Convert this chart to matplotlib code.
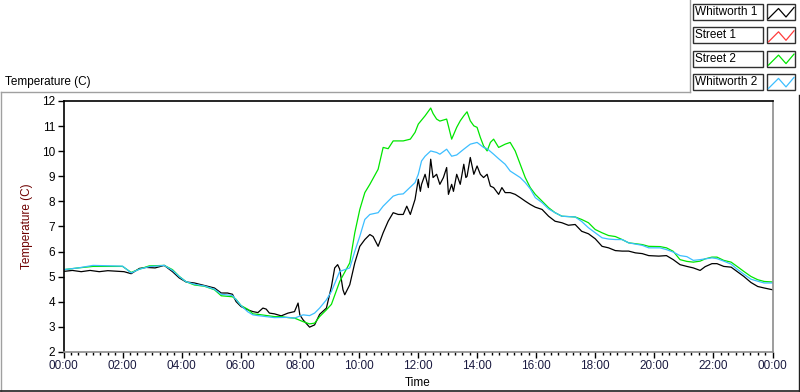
import numpy as np
import matplotlib.pyplot as plt
from matplotlib.patches import Rectangle
from matplotlib.lines import Line2D
from matplotlib.ticker import MultipleLocator, FuncFormatter

plt.rcParams['font.family'] = ['Liberation Sans', 'DejaVu Sans']

# data: hours since midnight, temperature (C)
whit1_t = [0.0, 0.3, 0.6, 0.9, 1.21, 1.5, 1.8, 2.05, 2.29, 2.57, 2.8, 3.1, 3.41, 3.69, 3.92,
           4.15, 4.43, 4.77, 5.11, 5.34, 5.55, 5.72, 5.84, 6.01, 6.24, 6.41, 6.58, 6.75, 6.86,
           6.97, 7.14, 7.37, 7.6, 7.82, 7.94, 8.0, 8.11, 8.33, 8.5, 8.67, 8.9, 9.07, 9.18,
           9.28, 9.35, 9.46, 9.52, 9.69, 9.86, 10.03, 10.2, 10.37, 10.48, 10.65, 10.82, 10.99,
           11.16, 11.33, 11.5, 11.62, 11.74, 11.9, 12.01, 12.08, 12.12, 12.24, 12.35, 12.43,
           12.51, 12.63, 12.74, 12.86, 12.97, 13.03, 13.14, 13.2, 13.31, 13.43, 13.55, 13.62,
           13.66, 13.77, 13.89, 14.0, 14.11, 14.22, 14.34, 14.45, 14.56, 14.73, 14.84, 14.95,
           15.12, 15.29, 15.46, 15.63, 15.8, 15.97, 16.2, 16.42, 16.64, 16.87, 17.09, 17.32,
           17.54, 17.77, 18.0, 18.23, 18.45, 18.68, 18.91, 19.13, 19.36, 19.59, 19.81, 20.15,
           20.41, 20.64, 20.87, 21.1, 21.32, 21.55, 21.72, 21.95, 22.12, 22.35, 22.6, 22.8,
           23.03, 23.27, 23.5, 23.72, 24.0]
whit1_v = [5.21, 5.25, 5.2, 5.25, 5.2, 5.24, 5.22, 5.2, 5.12, 5.33, 5.37, 5.35, 5.45, 5.2, 4.95,
           4.79, 4.75, 4.65, 4.55, 4.35, 4.35, 4.3, 4.01, 3.81, 3.68, 3.61, 3.57, 3.75, 3.71,
           3.55, 3.52, 3.44, 3.55, 3.61, 3.95, 3.48, 3.28, 2.99, 3.08, 3.5, 3.75, 4.61, 5.35,
           5.48, 5.3, 4.48, 4.28, 4.68, 5.55, 6.21, 6.48, 6.68, 6.6, 6.21, 6.75, 7.21,
           7.55, 7.48, 7.48, 7.81, 7.48, 8.08, 8.88, 8.4, 8.68, 9.08, 8.55, 9.68,
           8.95, 9.08, 8.68, 8.95, 9.35, 8.28, 8.68, 8.4, 9.08, 8.68, 9.48, 8.95,
           9.0, 9.75, 9.08, 9.41, 9.08, 8.95, 9.08, 8.61, 8.55, 8.28, 8.55, 8.35,
           8.35, 8.28, 8.15, 8.01, 7.88, 7.77, 7.68, 7.41, 7.21, 7.15, 7.05, 7.08,
           6.81, 6.71, 6.51, 6.21, 6.15, 6.04, 6.02, 6.02, 5.95, 5.92, 5.84, 5.82,
           5.84, 5.68, 5.48, 5.41, 5.35, 5.25, 5.4, 5.52, 5.52, 5.41, 5.38, 5.21,
           5.01, 4.77, 4.61, 4.55, 4.48]

street2_t = [0.0, 0.5, 1.0, 2.0, 2.29, 2.57, 2.9, 3.41, 3.69, 3.92, 4.15, 4.43, 4.77, 5.11, 5.34,
             5.72, 5.84, 6.01, 6.24, 6.41, 6.58, 7.14, 7.37, 7.6, 7.82, 8.11, 8.33, 8.5, 8.67,
             8.9, 9.07, 9.35, 9.69, 9.86, 10.03, 10.2, 10.37, 10.65, 10.82, 10.99, 11.16, 11.5,
             11.74, 11.9, 12.01, 12.24, 12.43, 12.51, 12.63, 12.74, 12.97, 13.03, 13.14, 13.31,
             13.43, 13.55, 13.66, 13.77, 13.89, 14.0, 14.11, 14.22, 14.34, 14.45, 14.56, 14.73,
             14.95, 15.12, 15.29, 15.46, 15.63, 15.8, 15.97, 16.2, 16.42, 16.64, 16.87, 17.32,
             17.54, 17.77, 18.0, 18.23, 18.45, 18.68, 18.91, 19.13, 19.59, 19.81, 20.19, 20.41,
             20.64, 20.87, 21.1, 21.32, 21.55, 21.72, 21.95, 22.12, 22.35, 22.6, 22.8, 23.03,
             23.27, 23.5, 23.72, 24.0]
street2_v = [5.28, 5.35, 5.41, 5.41, 5.17, 5.3, 5.43, 5.45, 5.28, 5.01, 4.8, 4.67, 4.62, 4.48, 4.24,
             4.2, 4.1, 3.85, 3.7, 3.52, 3.5, 3.41, 3.41, 3.37, 3.35, 3.21, 3.12, 3.15, 3.41,
             3.68, 3.9, 4.81, 5.55, 6.75, 7.68, 8.35, 8.68, 9.28, 10.15, 10.1, 10.41, 10.41,
             10.48, 10.75, 11.08, 11.41, 11.72, 11.5, 11.28, 11.2, 11.28, 11.0, 10.48, 10.95,
             11.21, 11.41, 11.57, 11.21, 11.01, 10.95, 10.55, 10.21, 10.01, 10.35, 10.48, 10.15,
             10.28, 10.35, 10.01, 9.48, 8.95, 8.55, 8.28, 8.01, 7.75, 7.55, 7.41, 7.38,
             7.28, 7.15, 6.88, 6.75, 6.64, 6.6, 6.48, 6.35, 6.28, 6.21, 6.2, 6.15,
             6.01, 5.68, 5.61, 5.58, 5.62, 5.71, 5.78, 5.78, 5.65, 5.58, 5.41, 5.21,
             5.01, 4.88, 4.81, 4.79]

whit2_t = [0.0, 0.5, 1.0, 2.0, 2.29, 2.57, 2.9, 3.41, 3.69, 3.92, 4.15, 4.43, 4.77, 5.11, 5.34,
           5.72, 6.01, 6.24, 6.41, 6.58, 7.14, 7.6, 7.82, 8.11, 8.33, 8.5, 8.67, 8.9, 9.07,
           9.35, 9.69, 9.86, 10.03, 10.2, 10.37, 10.65, 10.82, 11.16, 11.33, 11.5, 11.9, 12.01,
           12.12, 12.24, 12.43, 12.63, 12.74, 12.97, 13.14, 13.31, 13.55, 13.77, 14.0, 14.22,
           14.34, 14.56, 14.73, 14.95, 15.12, 15.29, 15.46, 15.63, 15.8, 15.97, 16.2, 16.42,
           16.64, 16.87, 17.32, 17.54, 17.77, 18.0, 18.23, 18.45, 18.68, 18.91, 19.13, 19.59,
           19.81, 20.19, 20.41, 20.64, 20.87, 21.1, 21.32, 21.55, 21.95, 22.12, 22.35, 22.6,
           22.8, 23.03, 23.27, 23.5, 23.72, 24.0]
whit2_v = [5.28, 5.35, 5.45, 5.42, 5.15, 5.3, 5.4, 5.45, 5.25, 5.0, 4.8, 4.7, 4.63, 4.5, 4.3,
           4.25, 3.85, 3.6, 3.48, 3.45, 3.37, 3.38, 3.35, 3.48, 3.45, 3.55, 3.75, 4.08, 4.41,
           5.21, 5.35, 6.01, 6.61, 7.28, 7.48, 7.55, 7.81, 8.21, 8.28, 8.3, 8.75, 9.08,
           9.61, 9.8, 10.01, 9.95, 9.88, 10.08, 9.8, 9.85, 10.08, 10.28, 10.35, 10.15,
           10.1, 9.88, 9.7, 9.48, 9.21, 9.08, 8.95, 8.75, 8.5, 8.15, 7.95, 7.7,
           7.55, 7.41, 7.38, 7.2, 6.95, 6.75, 6.55, 6.5, 6.48, 6.48, 6.35, 6.25,
           6.15, 6.15, 6.08, 5.98, 5.84, 5.8, 5.65, 5.68, 5.75, 5.72, 5.62, 5.5,
           5.3, 5.1, 4.9, 4.82, 4.75, 4.75]

legend_names = ['Whitworth 1', 'Street 1', 'Street 2', 'Whitworth 2']
legend_colors = ['#000000', '#ff3c3c', '#00e600', '#3cbeff']

W, H = 800, 392
fig = plt.figure(figsize=(W / 100, H / 100), dpi=100)
fig.patch.set_facecolor('white')


def fx(px):
    return px / W


def fy(py):
    return 1 - py / H


# plot area
ax = fig.add_axes([fx(63.5), fy(352), (772.5 - 63.5) / W, (352 - 101) / H])
ax.plot(whit1_t, whit1_v, color=legend_colors[0], lw=0.9)
ax.plot(street2_t, street2_v, color=legend_colors[2], lw=0.9)
ax.plot(whit2_t, whit2_v, color=legend_colors[3], lw=0.9)

ax.set_xlim(0, 24)
ax.set_ylim(2, 12)
ax.xaxis.set_major_locator(MultipleLocator(2))
ax.xaxis.set_minor_locator(MultipleLocator(0.25))
ax.xaxis.set_major_formatter(FuncFormatter(lambda x, pos: f"{int(round(x)) % 24:02d}:00"))
ax.yaxis.set_major_locator(MultipleLocator(1))

for side in ['top', 'left']:
    ax.spines[side].set_color('black')
    ax.spines[side].set_linewidth(1.2)
for side in ['bottom', 'right']:
    ax.spines[side].set_color('#8c8c8c')
    ax.spines[side].set_linewidth(1.2)

ax.tick_params(which='major', direction='out', length=4, width=1, labelsize=8.5, pad=2)
ax.tick_params(which='minor', direction='out', length=2.5, width=1)
ax.tick_params(axis='x', colors='black', labelcolor='#1a1a40')

ax.set_ylabel('Temperature (C)', color='#6e0000', fontsize=8.5)
ax.yaxis.set_label_coords((33 - 63.5) / 709, 0.5)
ax.set_xlabel('Time', fontsize=8.5)
ax.xaxis.set_label_coords(0.5, -(377 - 352) / 251)

fig.text(fx(5), fy(82), 'Temperature (C)', va='center', ha='left', fontsize=8.5)

# outer frame
fig.add_artist(Line2D([fx(0.5), fx(689.5)], [fy(91.5), fy(91.5)], color='#a0a0a0', lw=1))
fig.add_artist(Line2D([fx(0.5), fx(0.5)], [fy(91.5), fy(392)], color='#a0a0a0', lw=1))
fig.add_artist(Line2D([fx(689.5), fx(689.5)], [fy(0), fy(91.5)], color='#a0a0a0', lw=1))
fig.add_artist(Line2D([fx(798.5), fx(798.5)], [fy(95), fy(392)], color='#202020', lw=1))
fig.add_artist(Line2D([fx(0), fx(800)], [fy(391), fy(391)], color='#202020', lw=1.2))

# legend boxes
for i, (name, col) in enumerate(zip(legend_names, legend_colors)):
    top = 4 + i * 23.3
    h = 16
    fig.add_artist(Rectangle((fx(692.5), fy(top + h)), 70.5 / W, h / H, transform=fig.transFigure,
                             facecolor='white', edgecolor='#303030', lw=1))
    fig.text(fx(695), fy(top + h / 2), name, va='center', ha='left', fontsize=8.5)
    fig.add_artist(Rectangle((fx(766.5), fy(top + h)), 28.5 / W, h / H, transform=fig.transFigure,
                             facecolor='white', edgecolor='#303030', lw=1))
    ix = [768.5, 778.5, 786.0, 794.0]
    iy = [top + 14.5, top + 4.5, top + 13, top + 3.5]
    fig.add_artist(Line2D([fx(v) for v in ix], [fy(v) for v in iy], color=col, lw=0.9))

fig.savefig('out.png', dpi=100)
